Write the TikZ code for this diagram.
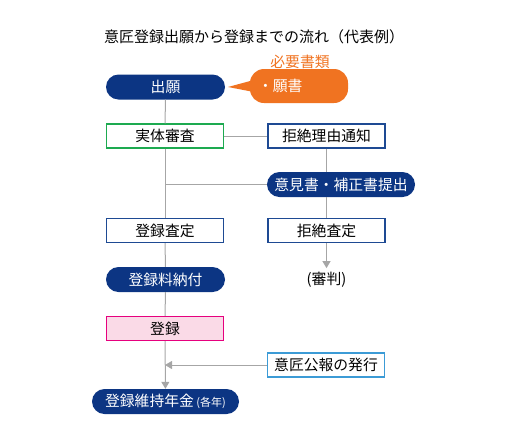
\documentclass[tikz,border=0pt]{standalone}
\usepackage{fontspec}
\setmainfont{Noto Sans CJK JP}
\usetikzlibrary{arrows.meta,positioning}
\definecolor{navy}{HTML}{0C3583}
\definecolor{calloutbg}{HTML}{F07321}
\definecolor{examgreen}{HTML}{1DAA50}
\definecolor{boxbd}{HTML}{1E4A93}
\definecolor{lightbd}{HTML}{3C9BD6}
\definecolor{pinkbd}{HTML}{E6007E}
\definecolor{pinkbg}{HTML}{FADAE7}
\definecolor{linegray}{HTML}{A6A6A6}
\tikzset{
  pill/.style={fill=navy,text=white,rounded corners=12.5pt,minimum width=119pt,
               minimum height=25pt,inner sep=0pt,font=\fontsize{14.8}{16}\selectfont},
  stepbox/.style={draw=boxbd,fill=white,line width=1.1pt,minimum width=117pt,
                  minimum height=24pt,inner sep=0pt,font=\fontsize{14.8}{16}\selectfont},
  callout/.style={fill=calloutbg,text=white,rounded corners=14pt,minimum width=98pt,
                  minimum height=34pt,inner xsep=8pt,text width=82pt,align=left,
                  font=\fontsize{14.8}{16}\selectfont},
  flow/.style={draw=linegray,line width=1pt},
  flowarrow/.style={flow,-{Triangle[length=7pt,width=8pt]}},
}
\begin{document}
\begin{tikzpicture}[x=1pt,y=-1pt]
  \useasboundingbox (0,0) rectangle (506,432);
  \node[font=\fontsize{15}{16}\selectfont] (title) at (254,37)
    {意匠登録出願から登録までの流れ（代表例）};
  % left column
  \node[pill] (apply) at (165.5,87) {出願};
  \node[stepbox,draw=examgreen] (exam) at (165,136) {実体審査};
  \node[stepbox] (regdec) at (165,230.5) {登録査定};
  \node[pill] (fee) at (165.5,279.5) {登録料納付};
  \node[stepbox,draw=pinkbd,fill=pinkbg] (reg) at (165,328.5) {登録};
  \node[pill,minimum width=147pt] (annual) at (165.5,401.5)
    {登録維持年金\,{\fontsize{11}{12}\selectfont(各年)}};
  % right column
  \node[callout] (docs) at (299,86) {・願書};
  \coordinate (tip) at (228,87);
  \fill[calloutbg] ([xshift=4pt,yshift=6pt]docs.west) -- (tip)
    -- ([xshift=4pt,yshift=-6pt]docs.west) -- cycle;
  \node[font=\fontsize{14.8}{16}\selectfont,text=calloutbg] (docslabel) at (300,62) {必要書類};
  \node[stepbox] (notice) at (326.5,136) {拒絶理由通知};
  \node[pill,minimum width=148pt] (opinion) at (341,184.5) {意見書・補正書提出};
  \node[stepbox] (refusal) at (326.5,230.5) {拒絶査定};
  \node[font=\fontsize{14.8}{16}\selectfont,inner sep=1pt] (trial) at (326.5,280) {(審判)};
  \node[stepbox,draw=lightbd] (gazette) at (326,365) {意匠公報の発行};
  % connectors
  \draw[flow] (apply) -- (exam);
  \draw[flow] (exam) -- (notice);
  \draw[flow] (exam) -- (regdec);
  \draw[flow] (regdec) -- (fee);
  \draw[flow] (fee) -- (reg);
  \draw[flowarrow] (reg) -- (annual);
  \draw[flow] (opinion.west) -- (opinion.west -| exam.south);
  \draw[flow] (notice.south) -- (notice.south |- opinion.north);
  \draw[flow] (refusal.north |- opinion.south) -- (refusal.north);
  \draw[flowarrow,shorten >=3pt] (refusal) -- (trial);
  \draw[flowarrow] (gazette) -- (gazette.west -| reg.south);
\end{tikzpicture}
\end{document}
